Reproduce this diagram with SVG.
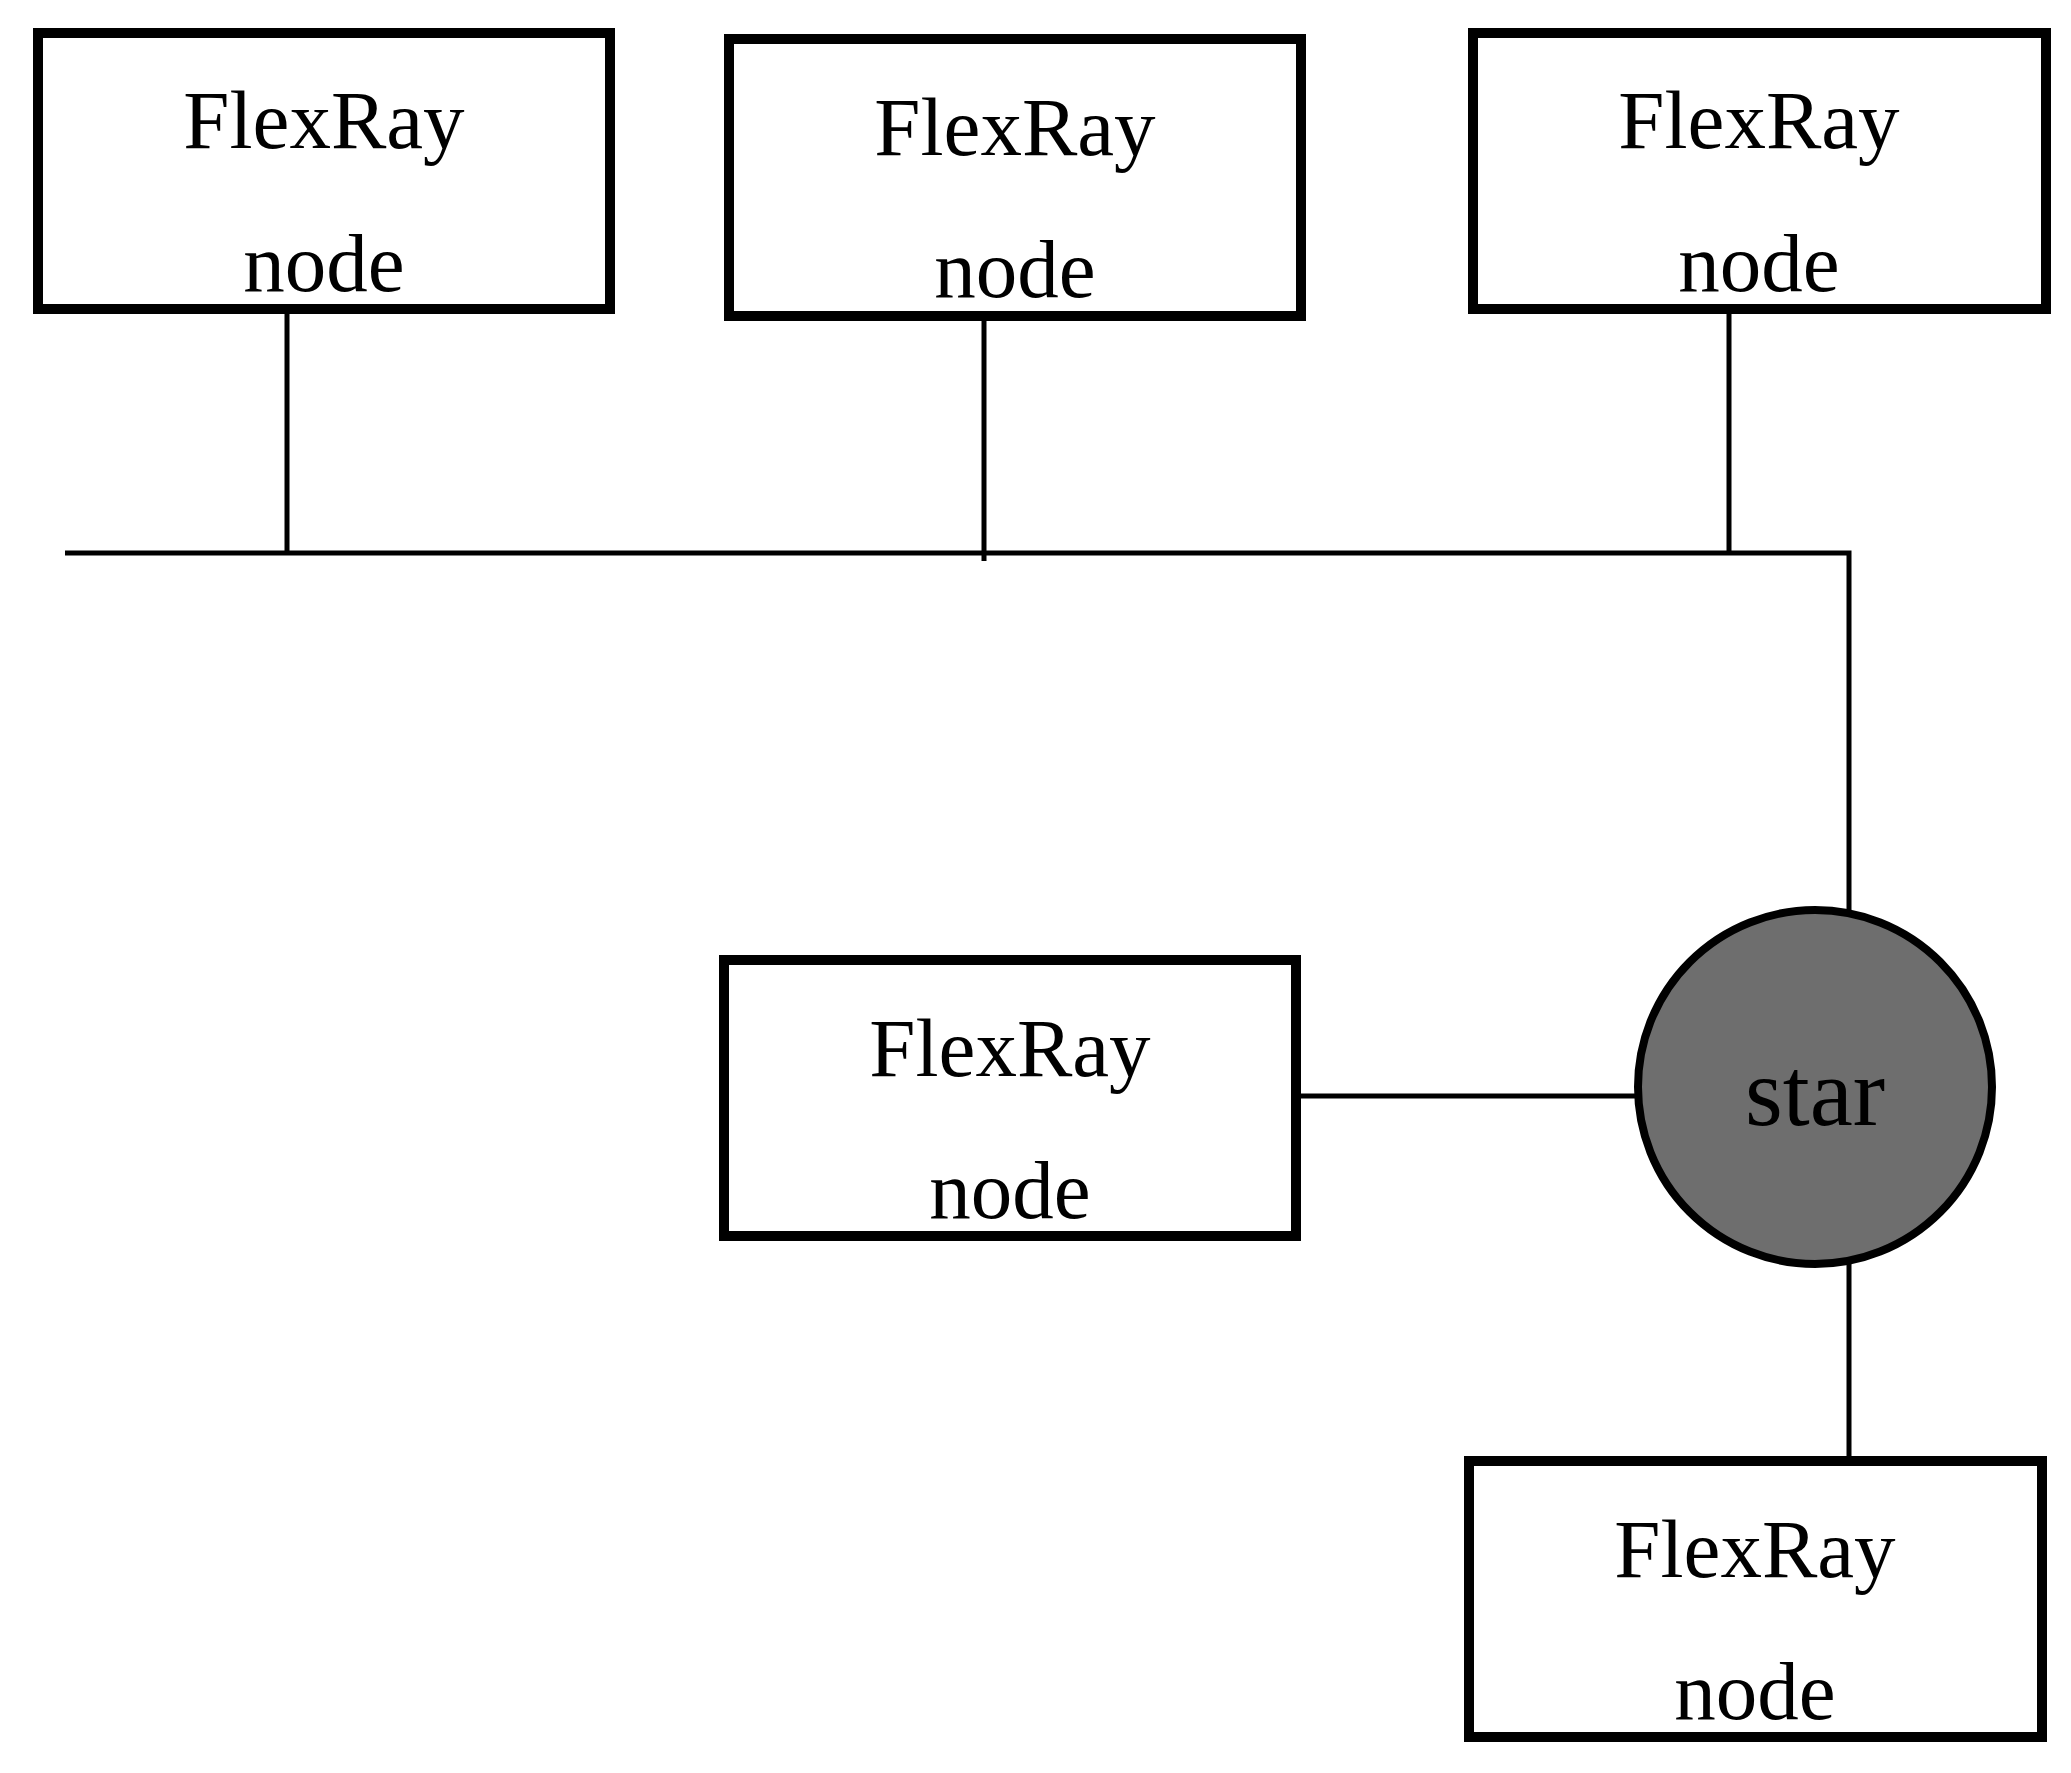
<svg xmlns="http://www.w3.org/2000/svg" width="2071" height="1773" viewBox="0 0 2071 1773">
<style>
.box{fill:#ffffff;stroke:#000000;stroke-width:10}
.wire{fill:none;stroke:#000000;stroke-width:5}
.lbl{font-family:"Liberation Serif","Times New Roman",serif;font-size:83px;fill:#000000;text-anchor:middle}
.star{fill:#6e6e6e;stroke:#000000;stroke-width:8}
</style>
<rect width="2071" height="1773" fill="#ffffff"/>
<g id="connectors">
<path class="wire" d="M65,553 H1849 V918"/>
<line class="wire" x1="287" y1="309" x2="287" y2="553"/>
<line class="wire" x1="984" y1="316" x2="984" y2="561"/>
<line class="wire" x1="1729" y1="309" x2="1729" y2="553"/>
<line class="wire" x1="1296" y1="1096" x2="1640" y2="1096"/>
<line class="wire" x1="1849" y1="1256" x2="1849" y2="1461"/>
</g>
<g id="node1">
<rect class="box" x="38" y="33" width="572" height="276"/>
<text class="lbl" x="324" y="148">FlexRay</text>
<text class="lbl" x="324" y="291">node</text>
</g>
<g id="node2">
<rect class="box" x="729" y="39" width="572" height="277"/>
<text class="lbl" x="1015" y="155">FlexRay</text>
<text class="lbl" x="1015" y="297">node</text>
</g>
<g id="node3">
<rect class="box" x="1473" y="33" width="573" height="276"/>
<text class="lbl" x="1759" y="148">FlexRay</text>
<text class="lbl" x="1759" y="291">node</text>
</g>
<g id="node4">
<rect class="box" x="724" y="960" width="572" height="276"/>
<text class="lbl" x="1010" y="1076">FlexRay</text>
<text class="lbl" x="1010" y="1218">node</text>
</g>
<g id="star">
<circle class="star" cx="1815" cy="1087" r="177"/>
<text class="lbl" x="1815" y="1125" style="font-size:97px">star</text>
</g>
<g id="node5">
<rect class="box" x="1469" y="1461" width="573" height="276"/>
<text class="lbl" x="1755" y="1577">FlexRay</text>
<text class="lbl" x="1755" y="1719">node</text>
</g>
</svg>
